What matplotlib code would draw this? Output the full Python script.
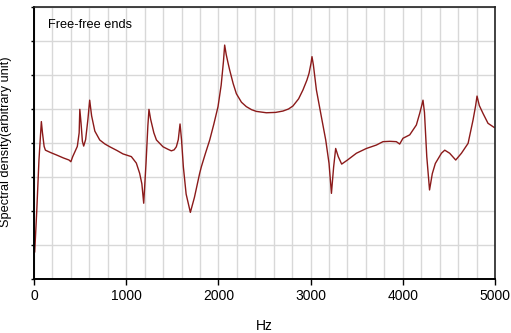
import matplotlib
matplotlib.use('Agg')
from matplotlib import pyplot as plt

plt.rcParams['font.family'] = ['Liberation Sans', 'DejaVu Sans']

# values (Hz, arbitrary units 0-8)
freq = [8, 30, 54, 70, 80, 92, 110, 124, 180, 243, 320, 380, 400, 420, 440,
        470, 490, 497, 510, 525, 539, 560, 585, 604, 625, 660, 713, 770, 822,
        900, 965, 1056, 1110, 1146, 1170, 1190, 1215, 1235, 1247, 1265, 1300,
        1328, 1399, 1450, 1490, 1520, 1544, 1565, 1584, 1600, 1620, 1650, 1696,
        1740, 1797, 1815, 1860, 1906, 1950, 1996, 2030, 2055, 2068, 2085, 2105,
        2122, 2160, 2195, 2250, 2303, 2360, 2412, 2520, 2620, 2700, 2760, 2809,
        2870, 2917, 2960, 2983, 3005, 3015, 3030, 3063, 3117, 3164, 3200, 3226,
        3250, 3272, 3300, 3337, 3400, 3497, 3605, 3713, 3785, 3860, 3930, 3966,
        4002, 4075, 4147, 4183, 4205, 4219, 4235, 4260, 4290, 4320, 4353, 4419,
        4455, 4508, 4574, 4636, 4708, 4762, 4790, 4805, 4830, 4870, 4924, 4990]
psd = [0.8, 2.0, 3.5, 4.2, 4.63, 4.3, 3.9, 3.79, 3.72, 3.65, 3.56, 3.5, 3.45,
       3.6, 3.72, 3.9, 4.3, 4.99, 4.6, 4.05, 3.91, 4.1, 4.7, 5.26, 4.8, 4.35,
       4.09, 3.97, 3.89, 3.78, 3.68, 3.6, 3.41, 3.11, 2.8, 2.23, 3.4, 4.5,
       4.99, 4.7, 4.3, 4.09, 3.89, 3.82, 3.77, 3.8, 3.89, 4.1, 4.56, 4.1,
       3.3, 2.5, 1.96, 2.4, 3.11, 3.3, 3.7, 4.09, 4.55, 5.07, 5.7, 6.4, 6.88,
       6.6, 6.35, 6.15, 5.75, 5.45, 5.2, 5.07, 4.98, 4.93, 4.89, 4.9, 4.94,
       5.0, 5.09, 5.3, 5.56, 5.85, 6.05, 6.35, 6.54, 6.3, 5.56, 4.77, 4.09,
       3.4, 2.52, 3.3, 3.84, 3.6, 3.38, 3.5, 3.7, 3.84, 3.94, 4.04, 4.05,
       4.04, 3.97, 4.14, 4.24, 4.53, 4.87, 5.1, 5.26, 4.9, 3.6, 2.62, 3.1,
       3.4, 3.7, 3.79, 3.7, 3.5, 3.7, 3.99, 4.68, 5.1, 5.38, 5.1, 4.87, 4.58,
       4.46]

xticks = [0, 1000, 2000, 3000, 4000, 5000]

fig = plt.figure(figsize=(5.11, 3.33), dpi=100)
ax = fig.add_axes([0.0665, 0.162, 0.9022, 0.817])

ax.plot(freq, psd, c='#8b1a1a', lw=1.0)

ax.set_xlim(0, 5000)
ax.set_ylim(0, 8)
ax.set_xticks(xticks)
ax.set_xticks(range(0, 5001, 200), minor=True)
ax.set_yticks(range(0, 9))
ax.set_yticklabels([])
ax.grid(True, which='both', color='#d8d8d8', lw=1)
ax.set_axisbelow(True)
ax.tick_params(axis='x', which='major', length=4, width=1, labelsize=10, pad=3)
ax.tick_params(axis='x', which='minor', length=0)
ax.tick_params(axis='y', length=2, width=1)

for side in ['left', 'bottom']:
    ax.spines[side].set_linewidth(1.4)
    ax.spines[side].set_color('black')
for side in ['top', 'right']:
    ax.spines[side].set_linewidth(1.2)
    ax.spines[side].set_color('#222222')

ax.text(0.03, 0.955, "Free-free ends", transform=ax.transAxes,
        fontsize=9.2, va='top', ha='left')
ax.set_xlabel("Hz", fontsize=10, labelpad=12)
ax.set_ylabel("Spectral density(arbitrary unit)", fontsize=9.2)
ax.yaxis.set_label_coords(-0.048, 0.505)

plt.savefig('out.png', dpi=100)
